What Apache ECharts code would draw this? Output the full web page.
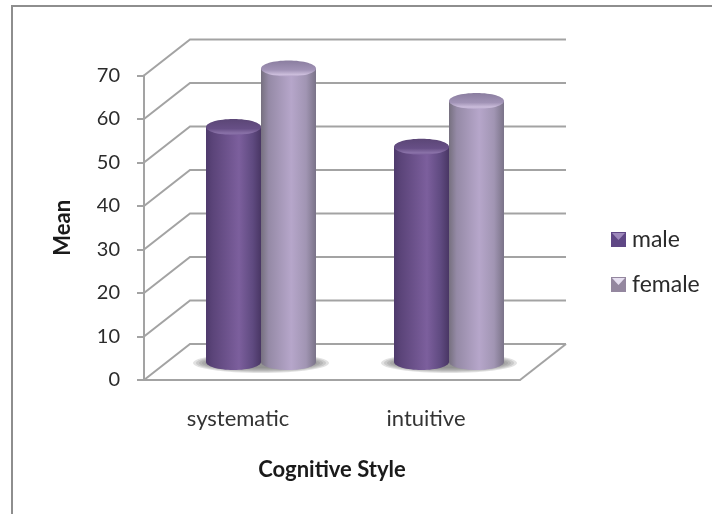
<!DOCTYPE html>
<html>
<head>
<meta charset="utf-8">
<style>html,body{margin:0;padding:0;background:#fff}#chart{width:712px;height:514px}</style>
<script src="https://cdn.jsdelivr.net/npm/echarts@6/dist/echarts.min.js"></script>
</head>
<body>
<div id="chart"></div>
<script>
// Mean score by cognitive style and gender
const categories = ['systematic', 'intuitive'];
const maleValues = [54, 49.5];
const femaleValues = [67.5, 60];
const axisTicks = [0, 10, 20, 30, 40, 50, 60, 70];

// Oblique projection of the chart floor
const DEPTH_X = 46, DEPTH_Y = -36;
const BAR_RX = 27.5, BAR_RY = 8;
const GRID_COLOR = '#a3a3a3';
const FONT = 'Lato, "Open Sans", sans-serif';

function hGrad(stops) {
  return { type: 'linear', x: 0, y: 0, x2: 1, y2: 0,
    colorStops: stops.map(s => ({ offset: s[0], color: s[1] })) };
}
function vGrad(stops) {
  return { type: 'linear', x: 0, y: 0, x2: 0, y2: 1,
    colorStops: stops.map(s => ({ offset: s[0], color: s[1] })) };
}

const malePalette = {
  body: hGrad([[0, '#4e3a6c'], [0.12, '#5b4479'], [0.6, '#7c5f9d'], [0.85, '#5f4a80'], [1, '#493664']]),
  cap: vGrad([[0, '#5b4676'], [0.6, '#674f86'], [0.88, '#8a72a8'], [1, '#7a5f9b']])
};
const femalePalette = {
  body: hGrad([[0, '#76707f'], [0.14, '#958aa6'], [0.55, '#b6a6ca'], [0.82, '#a195b3'], [1, '#7a7388']]),
  cap: vGrad([[0, '#8a7d9f'], [0.6, '#a193b6'], [0.88, '#cbbddb'], [1, '#b5a5c9']])
};

// Back-wall gridlines: front tick, receding edge, then along the back wall
function renderWall(params, api) {
  const v = api.value(0);
  const sys = params.coordSys;
  const p = api.coord([0, v]);
  const x0 = sys.x, y0 = p[1];
  const children = [{
    type: 'polyline',
    shape: { points: [[x0, y0], [x0 + DEPTH_X, y0 + DEPTH_Y], [x0 + sys.width + DEPTH_X, y0 + DEPTH_Y]] },
    style: { stroke: GRID_COLOR, lineWidth: 2, fill: null }
  }];
  if (v === 0) {
    children.push({
      type: 'line',
      shape: { x1: x0 + sys.width, y1: y0, x2: x0 + sys.width + DEPTH_X, y2: y0 + DEPTH_Y },
      style: { stroke: GRID_COLOR, lineWidth: 2 }
    });
  }
  return { type: 'group', children };
}

// Soft shadow on the floor beneath each pair of cylinders, built from nested translucent ellipses
const SHADOW_RINGS = [[68, 10], [65, 9], [62, 8], [59, 7], [56, 6], [53, 5]];
function renderShadow(params, api) {
  const p = api.coord([api.value(0), 0]);
  return {
    type: 'group',
    children: SHADOW_RINGS.map(r => ({
      type: 'ellipse',
      shape: { cx: p[0] + DEPTH_X / 2, cy: p[1] + DEPTH_Y / 2 + 1, rx: r[0], ry: r[1] },
      style: { fill: 'rgba(110,110,110,0.2)' }
    }))
  };
}

function cylinderRenderer(side, palette) {
  return function (params, api) {
    const base = api.coord([api.value(0), 0]);
    const top = api.coord([api.value(0), api.value(1)]);
    const cx = base[0] + DEPTH_X / 2 + side * BAR_RX;
    const yBase = base[1] + DEPTH_Y / 2;
    const yTop = top[1] + DEPTH_Y / 2;
    return {
      type: 'group',
      children: [
        { type: 'ellipse', shape: { cx, cy: yBase, rx: BAR_RX, ry: BAR_RY }, style: { fill: palette.body } },
        { type: 'rect', shape: { x: cx - BAR_RX, y: yTop, width: BAR_RX * 2, height: yBase - yTop }, style: { fill: palette.body } },
        { type: 'ellipse', shape: { cx, cy: yTop, rx: BAR_RX, ry: BAR_RY }, style: { fill: palette.cap } }
      ]
    };
  };
}

function catData(values) {
  return values.map((v, i) => [i, v]);
}

// Small bevelled markers laid over the legend swatches
function swatchBevel(x, y, light) {
  return {
    type: 'polygon', z: 20,
    shape: { points: [[x + 1, y + 1], [x + 14, y + 1], [x + 7.5, y + 8]] },
    style: { fill: light }
  };
}

const chart = echarts.init(document.getElementById('chart'), null, { renderer: 'canvas' });
chart.setOption({
  animation: false,
  backgroundColor: '#ffffff',
  textStyle: { fontFamily: FONT },
  grid: { left: 144, top: 75.5, width: 376, height: 304.5, containLabel: false },
  xAxis: {
    type: 'category',
    data: categories,
    name: 'Cognitive Style',
    nameLocation: 'middle',
    nameGap: 79,
    nameTextStyle: { fontFamily: FONT, fontWeight: 'bold', fontSize: 22, color: '#1a1a1a' },
    axisLine: { show: true, lineStyle: { color: GRID_COLOR, width: 2 } },
    axisTick: { show: false },
    axisLabel: { margin: 28, fontFamily: FONT, fontSize: 22, color: '#333333' },
    splitLine: { show: false }
  },
  yAxis: {
    type: 'value',
    min: 0,
    max: 70,
    interval: 10,
    name: 'Mean',
    nameLocation: 'middle',
    nameGap: 70,
    nameTextStyle: { fontFamily: FONT, fontWeight: 'bold', fontSize: 22, color: '#1a1a1a' },
    axisLine: { show: true, lineStyle: { color: GRID_COLOR, width: 2 } },
    axisTick: { show: true, length: 7, lineStyle: { color: GRID_COLOR, width: 2 } },
    axisLabel: { margin: 24, fontFamily: FONT, fontSize: 20, color: '#2b2b2b' },
    splitLine: { show: false }
  },
  legend: {
    orient: 'vertical',
    left: 606,
    top: 223,
    itemWidth: 15,
    itemHeight: 15,
    itemGap: 22,
    icon: 'rect',
    selectedMode: false,
    textStyle: { fontFamily: FONT, fontSize: 23, color: '#2b2b2b', padding: [0, 0, 0, 1] },
    data: ['male', 'female']
  },
  graphic: [
    { type: 'line', z: 30, shape: { x1: 11, y1: 6, x2: 712, y2: 6 }, style: { stroke: '#8e8e8e', lineWidth: 2 } },
    { type: 'line', z: 30, shape: { x1: 12, y1: 5, x2: 12, y2: 514 }, style: { stroke: '#8e8e8e', lineWidth: 2 } },
    swatchBevel(611, 232, '#9d88bb'),
    swatchBevel(611, 277, '#e6dff0')
  ],
  series: [
    {
      type: 'custom', name: 'walls', coordinateSystem: 'cartesian2d', silent: true, z: 1,
      encode: { y: 0 }, renderItem: renderWall, data: axisTicks.map(v => [v])
    },
    {
      type: 'custom', name: 'floor shadow', coordinateSystem: 'cartesian2d', silent: true, z: 2,
      encode: { x: 0 }, renderItem: renderShadow, data: categories.map((c, i) => [i])
    },
    {
      type: 'custom', name: 'male', coordinateSystem: 'cartesian2d', z: 3,
      itemStyle: { color: '#5f4785' },
      encode: { x: 0, y: 1 }, renderItem: cylinderRenderer(-1, malePalette), data: catData(maleValues)
    },
    {
      type: 'custom', name: 'female', coordinateSystem: 'cartesian2d', z: 4,
      itemStyle: { color: '#94879f' },
      encode: { x: 0, y: 1 }, renderItem: cylinderRenderer(1, femalePalette), data: catData(femaleValues)
    }
  ]
});
</script>
</body>
</html>
